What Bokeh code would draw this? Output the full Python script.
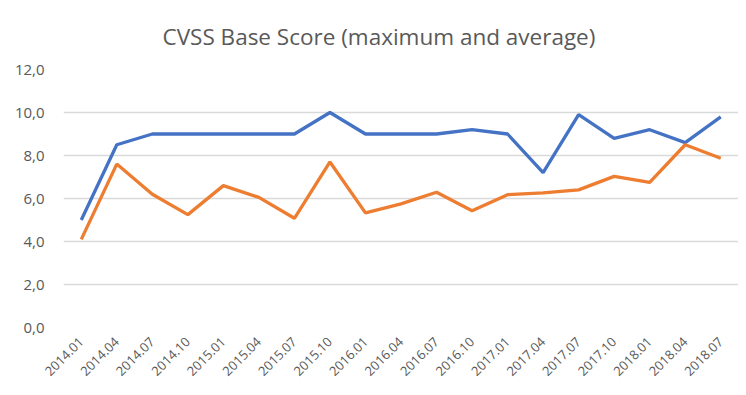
import math
from bokeh.plotting import figure
from bokeh.models import FactorRange, Range1d, FixedTicker
from bokeh.embed import file_html
from bokeh.resources import INLINE

quarters = ["2014.01", "2014.04", "2014.07", "2014.10", "2015.01", "2015.04",
            "2015.07", "2015.10", "2016.01", "2016.04", "2016.07", "2016.10",
            "2017.01", "2017.04", "2017.07", "2017.10", "2018.01", "2018.04",
            "2018.07"]
maximum = [5.0, 8.5, 9.0, 9.0, 9.0, 9.0, 9.0, 10.0, 9.0, 9.0, 9.0, 9.2,
           9.0, 7.2, 9.9, 8.8, 9.2, 8.6, 9.8]
average = [4.1, 7.6, 6.2, 5.25, 6.6, 6.05, 5.08, 7.7, 5.33, 5.75, 6.29, 5.43,
           6.18, 6.26, 6.4, 7.03, 6.75, 8.5, 7.87]
y_ticks = [0, 2, 4, 6, 8, 10, 12]
y_tick_labels = ["0,0", "2,0", "4,0", "6,0", "8,0", "10,0", "12,0"]
title_text = "CVSS Base Score (maximum and average)"

GREY_TEXT = "#595959"
GRID = "#d9d9d9"

p = figure(width=738, height=387, output_backend="svg", toolbar_location=None,
           x_range=FactorRange(factors=quarters, range_padding=0),
           y_range=Range1d(0, 12),
           min_border_left=63, min_border_right=0, min_border_top=69,
           min_border_bottom=60)

p.title.text = title_text
p.title.align = "left"
p.title.offset = 99
p.title.text_font = "Open Sans"
p.title.text_font_size = "22.5px"
p.title.text_font_style = "normal"
p.title.text_color = GREY_TEXT
p.title.standoff = 36

p.outline_line_color = None
p.background_fill_color = "white"
p.border_fill_color = "white"

p.xgrid.grid_line_color = None
p.ygrid.grid_line_color = GRID
p.ygrid.grid_line_width = 1.5
p.yaxis.ticker = FixedTicker(ticks=y_ticks)
p.yaxis.major_label_overrides = {t: l for t, l in zip(y_ticks, y_tick_labels)}
p.yaxis.axis_line_color = None
p.yaxis.major_tick_line_color = None
p.yaxis.minor_tick_line_color = None
p.yaxis.major_label_text_font = "Open Sans"
p.yaxis.major_label_text_font_size = "15px"
p.yaxis.major_label_text_color = GREY_TEXT
p.yaxis.major_label_standoff = 13

p.xaxis.axis_line_color = None
p.xaxis.major_tick_line_color = None
p.xaxis.minor_tick_line_color = None
p.xaxis.major_label_orientation = math.pi / 4
p.xaxis.major_label_text_font = "Open Sans"
p.xaxis.major_label_text_font_size = "13px"
p.xaxis.major_label_text_color = GREY_TEXT
p.xaxis.major_label_standoff = 6

p.line(quarters, maximum, line_color="#4472C4", line_width=3.3)
p.line(quarters, average, line_color="#ED7D31", line_width=3.3)

open("out.html", "w").write(file_html(p, INLINE))
